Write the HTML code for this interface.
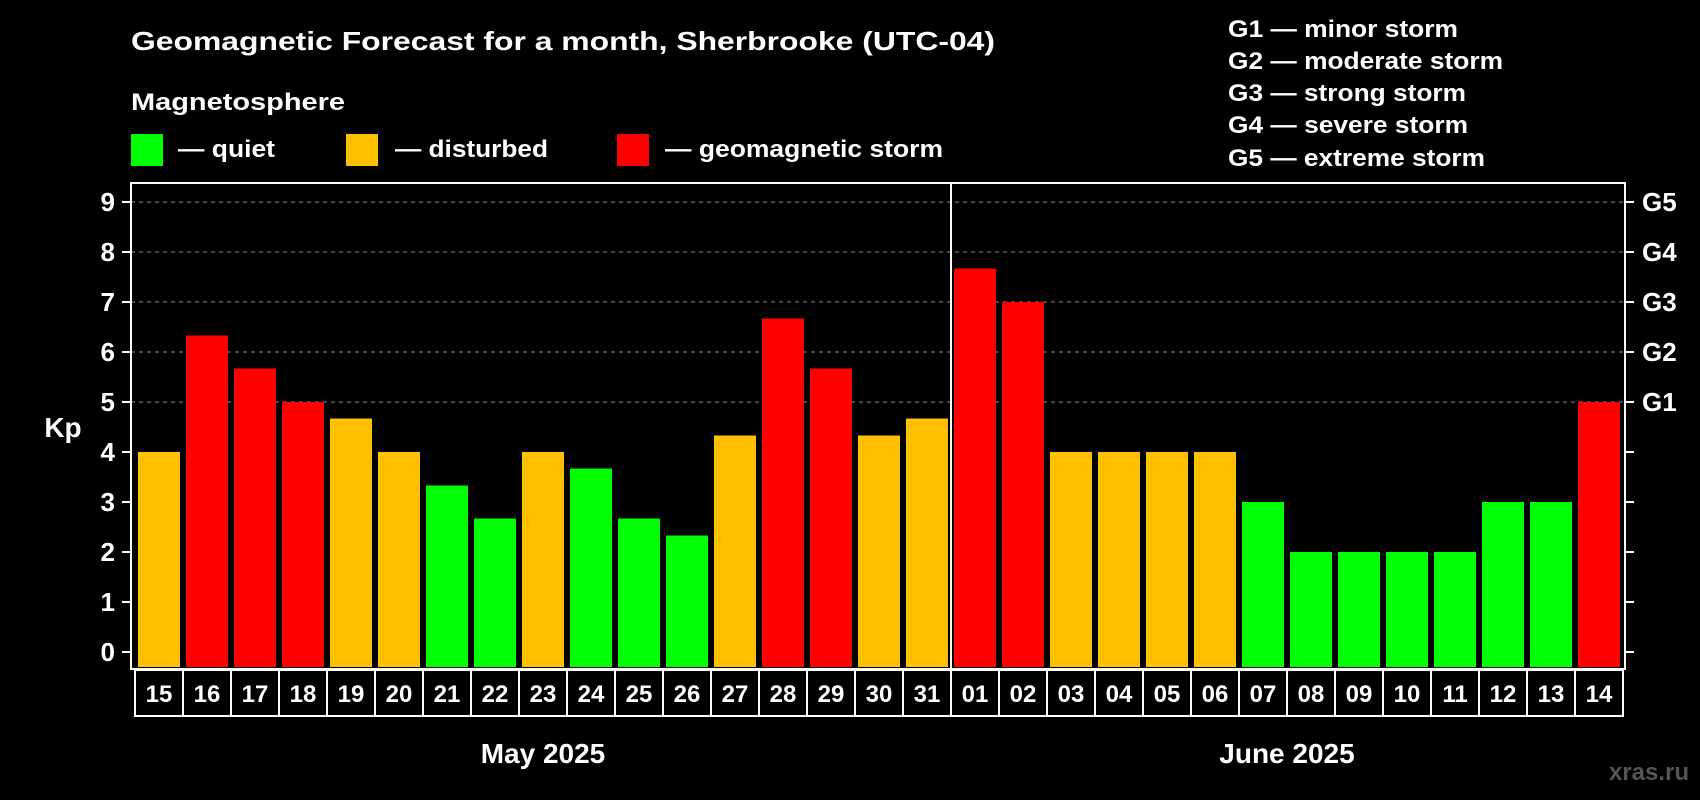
<!DOCTYPE html>
<html><head><meta charset="utf-8"><style>
html,body{margin:0;padding:0;background:#000;}
svg{display:block;font-family:"Liberation Sans",Arial,sans-serif;font-weight:bold;}
</style></head><body>
<svg id="chart" width="1700" height="800" viewBox="0 0 1700 800" xmlns="http://www.w3.org/2000/svg">
<rect x="0" y="0" width="1700" height="800" fill="#000"/>
<text x="131" y="50" fill="#fff" font-size="26" textLength="864" lengthAdjust="spacingAndGlyphs">Geomagnetic Forecast for a month, Sherbrooke (UTC-04)</text>
<text x="131" y="110" fill="#fff" font-size="24" textLength="214" lengthAdjust="spacingAndGlyphs">Magnetosphere</text>
<rect x="131" y="134" width="32" height="32" fill="#00ff00"/>
<text x="178" y="157" fill="#fff" font-size="24" textLength="97" lengthAdjust="spacingAndGlyphs">— quiet</text>
<rect x="346" y="134" width="32" height="32" fill="#ffc000"/>
<text x="395" y="157" fill="#fff" font-size="24" textLength="153" lengthAdjust="spacingAndGlyphs">— disturbed</text>
<rect x="617" y="134" width="32" height="32" fill="#ff0000"/>
<text x="665" y="157" fill="#fff" font-size="24" textLength="278" lengthAdjust="spacingAndGlyphs">— geomagnetic storm</text>
<text x="1228" y="37" fill="#fff" font-size="24" textLength="230" lengthAdjust="spacingAndGlyphs">G1 — minor storm</text>
<text x="1228" y="69" fill="#fff" font-size="24" textLength="275" lengthAdjust="spacingAndGlyphs">G2 — moderate storm</text>
<text x="1228" y="101" fill="#fff" font-size="24" textLength="238" lengthAdjust="spacingAndGlyphs">G3 — strong storm</text>
<text x="1228" y="133" fill="#fff" font-size="24" textLength="240" lengthAdjust="spacingAndGlyphs">G4 — severe storm</text>
<text x="1228" y="166" fill="#fff" font-size="24" textLength="257" lengthAdjust="spacingAndGlyphs">G5 — extreme storm</text>
<text x="63" y="437" fill="#fff" font-size="28" text-anchor="middle">Kp</text>
<text x="1689" y="780" fill="#555" font-size="24" text-anchor="end">xras.ru</text>
<g id="grid"></g><g id="bars"></g><g id="axes"></g>
</svg>
<script>
const days = ["15","16","17","18","19","20","21","22","23","24","25","26","27","28","29","30","31","01","02","03","04","05","06","07","08","09","10","11","12","13","14"];
const kp = [4,6.33,5.67,5,4.67,4,3.33,2.67,4,3.67,2.67,2.33,4.33,6.67,5.67,4.33,4.67,7.67,7,4,4,4,4,3,2,2,2,2,3,3,5];
const yTicks = ["0","1","2","3","4","5","6","7","8","9"];
const gLabels = ["G1","G2","G3","G4","G5"];
const months = ["May 2025","June 2025"];
const monthDays = [17,14];

const NS="http://www.w3.org/2000/svg";
const L=131,R=1625,T=183,B=669,slot=48,bx0=135;
function y(v){return 652-50*v;}
function x(i){return bx0+slot*i;}
function mk(tag,attrs,parent){const e=document.createElementNS(NS,tag);for(const k in attrs)e.setAttribute(k,attrs[k]);parent.appendChild(e);return e;}
function color(v){return v<4?"#00ff00":(v<5?"#ffc000":"#ff0000");}
const grid=document.getElementById("grid"),bars=document.getElementById("bars"),axes=document.getElementById("axes");

for(let i=5;i<yTicks.length;i++){
  const g=mk("line",{x1:L,x2:R,y1:y(i),y2:y(i),stroke:"#888","stroke-width":1,"stroke-dasharray":"4,4"},grid);
  
  
}
kp.forEach((v,i)=>{
  const r=mk("rect",{x:x(i)+3,y:y(v),width:42,height:B-2-y(v),fill:color(v)},bars);
  
  
});
const frame=mk("rect",{x:L,y:T,width:R-L,height:B-T,fill:"none",stroke:"#fff","stroke-width":2},axes);


const div=mk("line",{x1:x(monthDays[0]),x2:x(monthDays[0]),y1:T,y2:B,stroke:"#fff","stroke-width":2},axes);


yTicks.forEach((t,i)=>{
  mk("line",{x1:L-9,x2:L,y1:y(i),y2:y(i),stroke:"#fff","stroke-width":2},axes);
  mk("line",{x1:R,x2:R+9,y1:y(i),y2:y(i),stroke:"#fff","stroke-width":2},axes);
  const tx=mk("text",{x:115,y:y(i)+9,fill:"#fff","font-size":26,"text-anchor":"end"},axes);
  tx.textContent=t;
  
  
});
gLabels.forEach((g,i)=>{
  const tx=mk("text",{x:1642,y:y(i+5)+9,fill:"#fff","font-size":26},axes);
  tx.textContent=g;
  
  
});
days.forEach((d,i)=>{
  const c=mk("rect",{x:x(i),y:B+1,width:slot,height:46,fill:"none",stroke:"#fff","stroke-width":2},axes);
  
  
  const tx=mk("text",{x:x(i)+slot/2,y:B+33,fill:"#fff","font-size":24,"text-anchor":"middle"},axes);
  tx.textContent=d;
  
  
});
let start=0;
months.forEach((m,k)=>{
  const cx=x(start)+slot*monthDays[k]/2;
  const tx=mk("text",{x:cx,y:763,fill:"#fff","font-size":28,"text-anchor":"middle"},axes);
  tx.textContent=m;
  
  
  start+=monthDays[k];
});
</script>
</body></html>
